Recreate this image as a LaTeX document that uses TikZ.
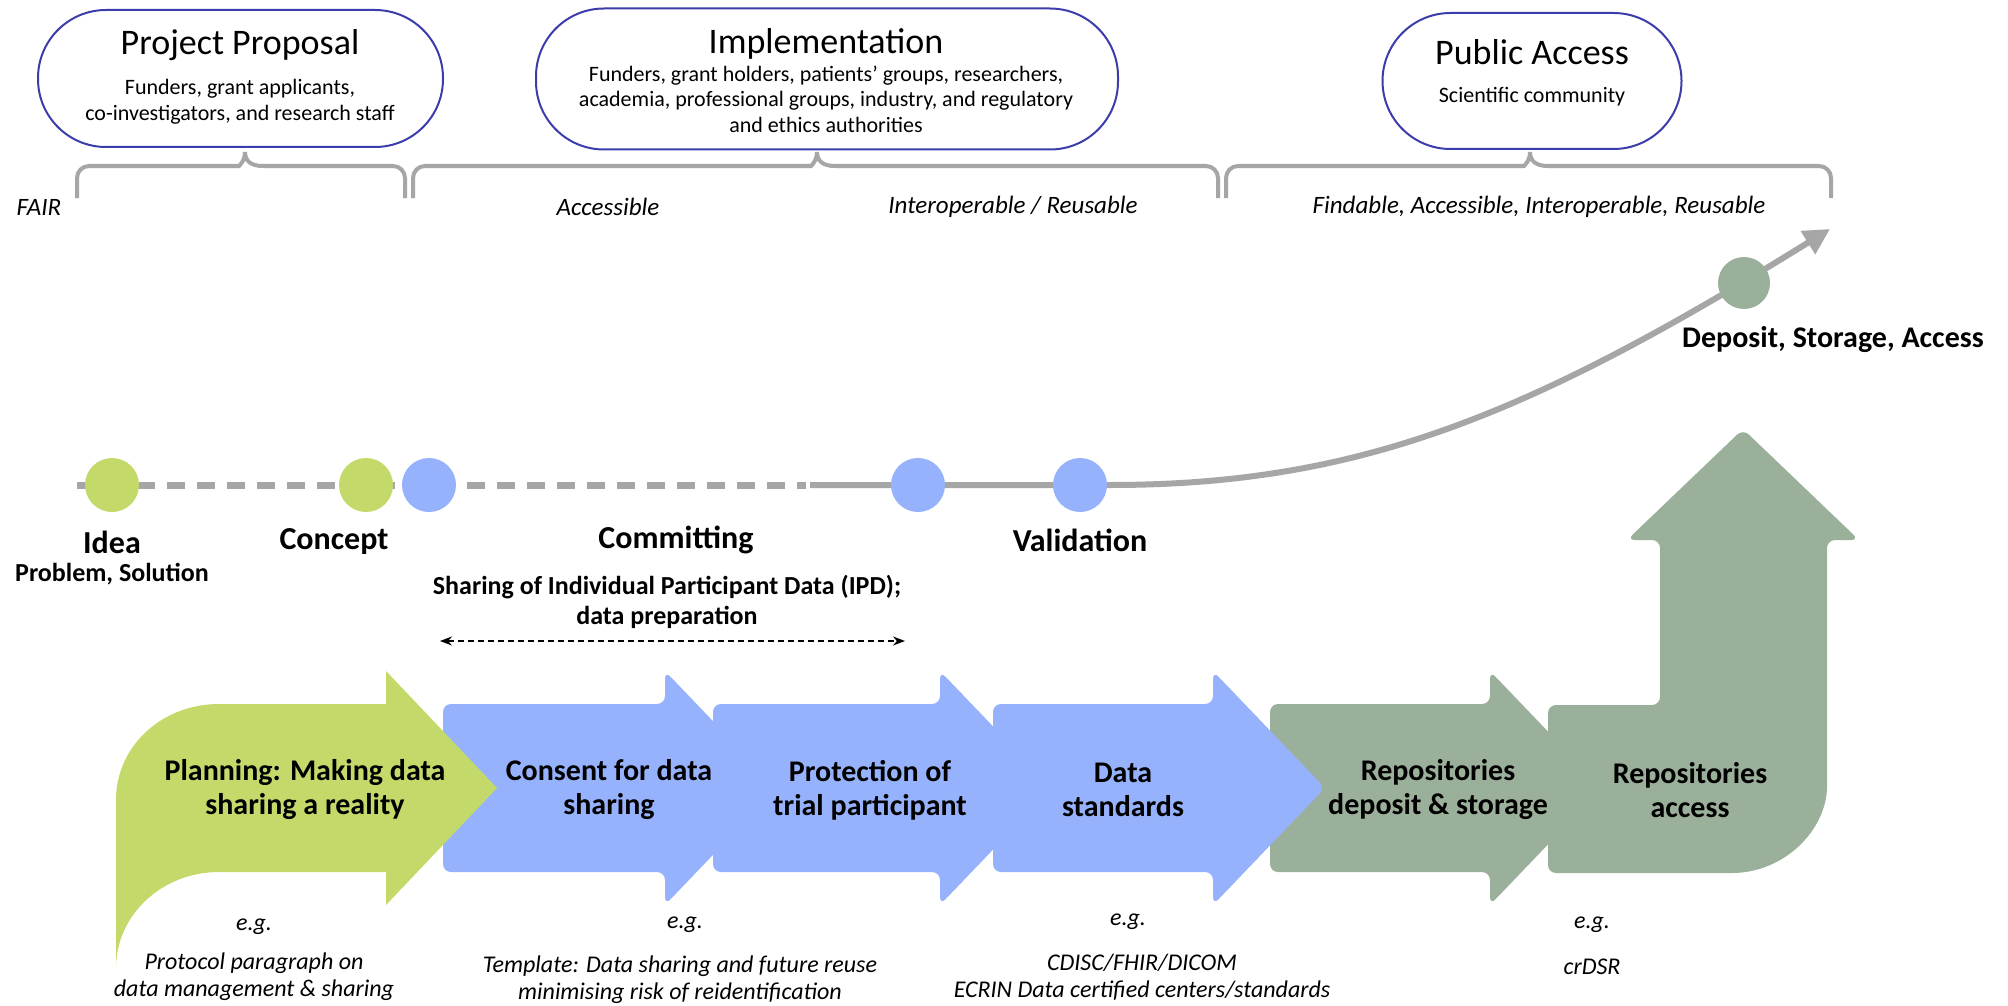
\documentclass[tikz,border=0pt]{standalone}
\usepackage{fontspec}
\setmainfont{Carlito}
\usepackage{tikz}
\usetikzlibrary{arrows.meta, calc}
\definecolor{stagelime}{HTML}{C3D96A}
\definecolor{stageblue}{HTML}{96B2FC}
\definecolor{stagesage}{HTML}{9BB09A}
\definecolor{linegray}{HTML}{A6A6A6}
\definecolor{ringblue}{HTML}{3C3CAA}

\begin{document}
\begin{tikzpicture}[x=0.5pt, y=-0.5pt,
  stadium/.style={draw=ringblue, line width=1pt, rounded corners=34pt},
  boxtitle/.style={font=\fontsize{18}{21}\selectfont, inner sep=0pt},
  who/.style={font=\fontsize{11}{12.75}\selectfont, align=center, inner sep=0pt},
  brace/.style={draw=linegray, line width=2pt},
  fair/.style={font=\itshape\fontsize{12.5}{15}\selectfont, inner sep=0pt},
  dot/.style={circle, minimum size=27pt, inner sep=0pt},
  msname/.style={font=\bfseries\fontsize{16}{19}\selectfont, inner sep=0pt},
  msnote/.style={font=\bfseries\fontsize{13}{15}\selectfont, align=center, inner sep=0pt},
  stagetext/.style={font=\bfseries\fontsize{15}{17}\selectfont, align=center, inner sep=0pt},
  eg/.style={font=\itshape\fontsize{12}{13.5}\selectfont, align=center, inner sep=0pt}]
  \useasboundingbox (0,0) rectangle (2008,1006);
  \fill[white] (0,0) rectangle (2008,1006);

  % Stakeholder boxes
  \node[stadium, minimum width=202.5pt, minimum height=68.5pt] (proposal) at (240.5,78.5) {};
  \node[boxtitle] (proposal-t) at (240,45) {Project Proposal};
  \node[who] (proposal-w) at (240,102) {Funders, grant applicants,\\co-investigators, and research staff};
  \node[stadium, minimum width=291pt, minimum height=70.5pt] (impl) at (827,79) {};
  \node[boxtitle] (impl-t) at (826,44) {Implementation};
  \node[who] (impl-w) at (826,99) {Funders, grant holders, patients' groups, researchers,\\academia, professional groups, industry, and regulatory\\and ethics authorities};
  \node[stadium, minimum width=149.5pt, minimum height=68pt] (public) at (1532,81) {};
  \node[boxtitle] (public-t) at (1532,52) {Public Access};
  \node[who] (public-w) at (1532,97) {Scientific community};

  % Braces under the boxes
  \foreach \a/\m/\b in {77/245/405, 413/817/1218, 1226/1530/1831}
    \draw[brace] (\a,198) [rounded corners=6pt] |- (\m-18,166) [sharp corners]
      .. controls (\m-6,166) and (\m,161) .. (\m,152)
      .. controls (\m,161) and (\m+6,166) .. (\m+18,166)
      [rounded corners=6pt] -| (\b,198);

  % FAIR principles
  \node[fair] (fair) at (39,207) {FAIR};
  \node[fair] (fair-a) at (608,207) {Accessible};
  \node[fair] (fair-ir) at (1013,207) {Interoperable / Reusable};
  \node[fair] (fair-all) at (1539,207) {Findable, Accessible, Interoperable, Reusable};

  % Timeline
  \coordinate (tl-a) at (77,485);
  \coordinate (tl-b) at (806,485);
  \coordinate (tl-c) at (810,485);
  \coordinate (tl-d) at (1110,485);
  \coordinate (tl-e) at (1830,229);
  \draw[linegray, line width=3.5pt, dash pattern=on 9pt off 6pt] (tl-a) -- (tl-b);
  \draw[linegray, line width=3pt, -{Triangle[length=13pt,width=13pt]}]
    (tl-c) -- (tl-d) .. controls (1360,485) and (1530,415) .. (tl-e);

  \node[dot, fill=stagelime] (idea) at (112,485) {};
  \node[dot, fill=stagelime] (concept) at (366,485) {};
  \node[dot, fill=stageblue] (commit) at (429,485) {};
  \node[dot, fill=stageblue] (commit2) at (918,485) {};
  \node[dot, fill=stageblue] (valid) at (1080,485) {};
  \node[dot, fill=stagesage, minimum size=26pt] (store) at (1744,283) {};

  \node[msname] (idea-l) at (112,542) {Idea};
  \node[msnote] (idea-n) at (112,574) {Problem, Solution};
  \node[msname] (concept-l) at (334,542) {Concept};
  \node[msname] (commit-l) at (676,540) {Committing};
  \node[msnote] (commit-n) at (667,602) {Sharing of Individual Participant Data (IPD);\\data preparation};
  \node[msname] (valid-l) at (1080,540) {Validation};
  \node[font=\bfseries\fontsize{15}{17}\selectfont, inner sep=0pt] (store-l) at (1833,340) {Deposit, Storage, Access};

  \coordinate (ipd-l) at (440,641);
  \coordinate (ipd-r) at (905,641);
  \draw[{Stealth[length=6pt]}-{Stealth[length=6pt]}, line width=0.6pt, dash pattern=on 3pt off 2pt] (ipd-l) -- (ipd-r);

  % Stage arrows
  \foreach \xl/\xh/\col in {443/665/stageblue, 713/940/stageblue, 1270/1490/stagesage, 993/1213/stageblue}
    \fill[\col, rounded corners=4pt] (\xl,704) -- (\xh,704) -- (\xh,671) -- (\xh+112,788)
      -- (\xh,905) -- (\xh,872) -- (\xl,872) -- cycle;
  % turning arrow for access
  \fill[stagesage, rounded corners=4pt] (1548,705) -- (1660,705) -- (1660,540) -- (1627,540)
    -- (1743,429) -- (1859,540) -- (1827,540) -- (1827,778) [sharp corners]
    .. controls (1827,830) and (1784,873) .. (1732,873) [rounded corners=4pt]
    -- (1548,873) -- cycle;
  % planning arrow with its tail
  \fill[stagelime] (116,968) -- (116,800) .. controls (116,746) and (162,704) .. (219,704)
    -- (386,704) -- (386,671) -- (497,788) -- (386,905) -- (386,872) -- (219,872)
    .. controls (162,872) and (116,915) .. (116,968) -- cycle;

  \node[stagetext] (plan) at (305,790) {Planning: Making data\\sharing a reality};
  \node[stagetext] (consent) at (609,790) {Consent for data\\sharing};
  \node[stagetext] (protect) at (870,790) {Protection of\\trial participant};
  \node[stagetext] (standards) at (1123,790) {Data\\standards};
  \node[stagetext] (deposit) at (1438,790) {Repositories\\deposit \& storage};
  \node[stagetext] (access) at (1690,790) {Repositories\\access};

  % Examples
  \node[eg] (eg-plan) at (254,927) {e.g.};
  \node[eg] (ex-plan) at (254,977) {Protocol paragraph on\\data management \& sharing};
  \node[eg] (eg-consent) at (685,925) {e.g.};
  \node[eg] (ex-consent) at (680,980) {Template: Data sharing and future reuse\\minimising risk of reidentification};
  \node[eg] (eg-standards) at (1128,922) {e.g.};
  \node[eg] (ex-standards) at (1142,977) {CDISC/FHIR/DICOM\\ECRIN Data certified centers/standards};
  \node[eg] (eg-access) at (1592,925) {e.g.};
  \node[eg] (ex-access) at (1592,967) {crDSR};
\end{tikzpicture}
\end{document}
